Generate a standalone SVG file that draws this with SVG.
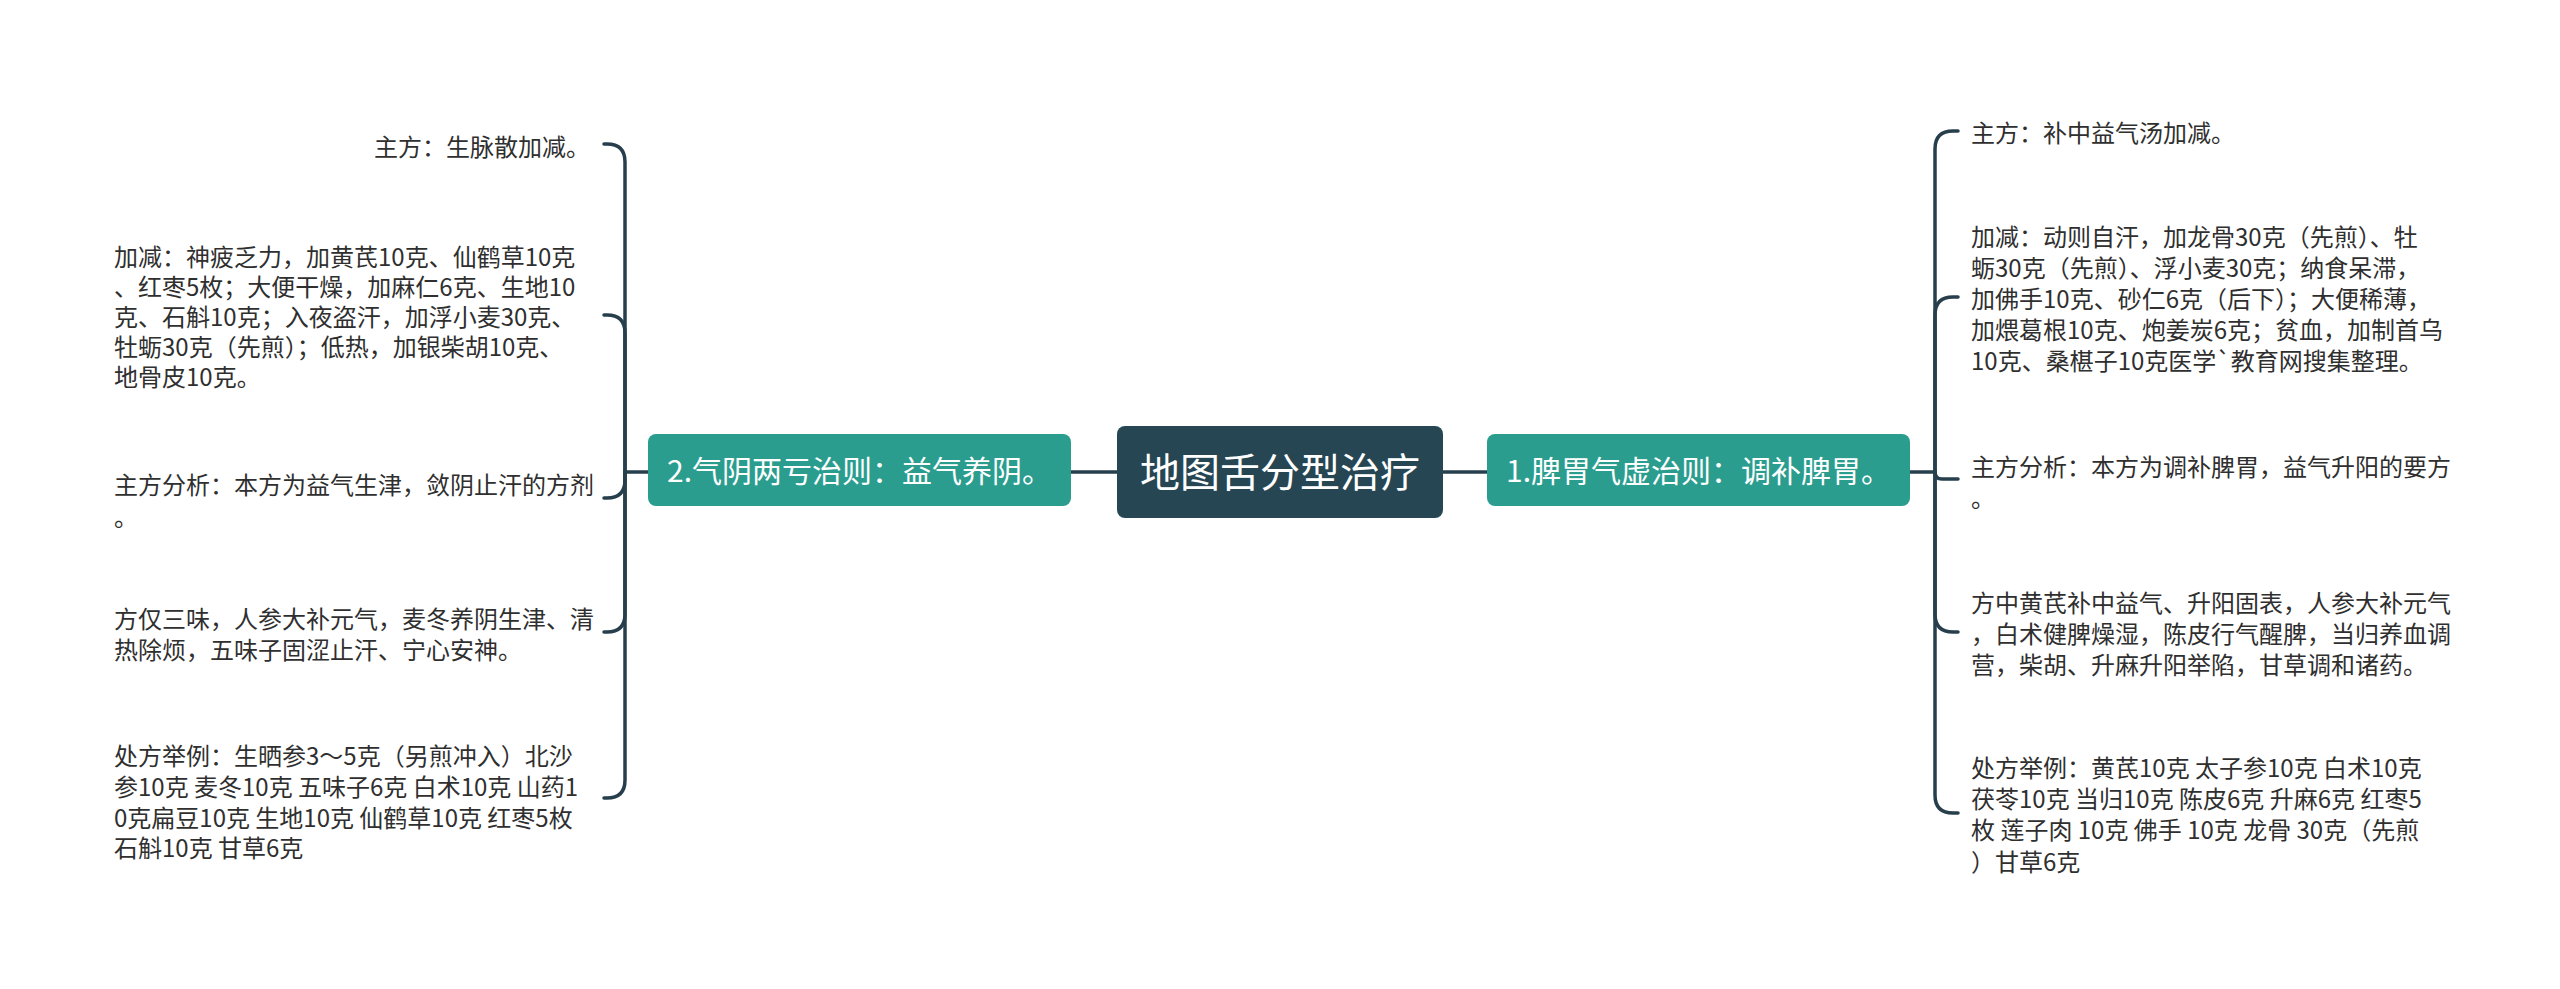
<svg xmlns="http://www.w3.org/2000/svg" width="2560" height="989" viewBox="0 0 2560 989">
<style>
.bg{fill:#ffffff}
.conn{fill:none;stroke:#273f4c;stroke-width:3.5;stroke-linecap:round;stroke-linejoin:round}
.root rect{fill:#264653}
.main rect{fill:#2a9d8f}
.root text{font-family:"Noto Sans CJK SC","Liberation Sans",sans-serif;font-size:40px;fill:#ffffff;dominant-baseline:central;text-anchor:middle}
.main text{font-family:"Noto Sans CJK SC","Liberation Sans",sans-serif;font-size:30px;fill:#ffffff;dominant-baseline:central;text-anchor:middle}
.leaf text{font-family:"Noto Sans CJK SC","Liberation Sans",sans-serif;font-size:24px;fill:#2f2f2f;dominant-baseline:central}
</style>
<rect class="bg" x="0" y="0" width="2560" height="989"/>
<g id="connectors">
<path class="conn" d="M1117,472 H1071"/>
<path class="conn" d="M1443,472 H1487"/>
<path class="conn" d="M648,472 H625"/>
<path class="conn" d="M625,472 V162 Q625,144 607,144 H604"/>
<path class="conn" d="M625,472 V333 Q625,315 607,315 H604"/>
<path class="conn" d="M625,472 V480 Q625,498 607,498 H604"/>
<path class="conn" d="M625,472 V614 Q625,632 607,632 H604"/>
<path class="conn" d="M625,472 V780 Q625,798 607,798 H604"/>
<path class="conn" d="M1910,472 H1935"/>
<path class="conn" d="M1935,472 V149 Q1935,131 1953,131 H1958"/>
<path class="conn" d="M1935,472 V315 Q1935,297 1953,297 H1958"/>
<path class="conn" d="M1935,472 Q1935,479 1942,479 H1958"/>
<path class="conn" d="M1935,472 V614 Q1935,632 1953,632 H1958"/>
<path class="conn" d="M1935,472 V795 Q1935,813 1953,813 H1958"/>
</g>
<g id="root" class="root">
<rect x="1117" y="426" width="326" height="92" rx="8"/>
<text x="1280" y="470">地图舌分型治疗</text>
</g>
<g id="branch-left" class="main">
<rect x="648" y="434" width="423" height="72" rx="8"/>
<text x="859.5" y="469">2.气阴两亏治则：益气养阴。</text>
</g>
<g id="branch-right" class="main">
<rect x="1487" y="434" width="423" height="72" rx="8"/>
<text x="1698.5" y="469">1.脾胃气虚治则：调补脾胃。</text>
</g>
<g id="left-1" class="leaf">
<text x="590" y="145" text-anchor="end">主方：生脉散加减。</text>
</g>
<g id="left-2" class="leaf">
<text x="114" y="255">加减：神疲乏力，加黄芪10克、仙鹤草10克</text>
<text x="114" y="285">、红枣5枚；大便干燥，加麻仁6克、生地10</text>
<text x="114" y="315">克、石斛10克；入夜盗汗，加浮小麦30克、</text>
<text x="114" y="345">牡蛎30克（先煎）；低热，加银柴胡10克、</text>
<text x="114" y="375">地骨皮10克。</text>
</g>
<g id="left-3" class="leaf">
<text x="114" y="483">主方分析：本方为益气生津，敛阴止汗的方剂</text>
<text x="114" y="515">。</text>
</g>
<g id="left-4" class="leaf">
<text x="114" y="617">方仅三味，人参大补元气，麦冬养阴生津、清</text>
<text x="114" y="648">热除烦，五味子固涩止汗、宁心安神。</text>
</g>
<g id="left-5" class="leaf">
<text x="114" y="754">处方举例：生晒参3～5克（另煎冲入）北沙</text>
<text x="114" y="785">参10克 麦冬10克 五味子6克 白术10克 山药1</text>
<text x="114" y="816">0克扁豆10克 生地10克 仙鹤草10克 红枣5枚</text>
<text x="114" y="846">石斛10克 甘草6克</text>
</g>
<g id="right-1" class="leaf">
<text x="1971" y="131">主方：补中益气汤加减。</text>
</g>
<g id="right-2" class="leaf">
<text x="1971" y="235">加减：动则自汗，加龙骨30克（先煎）、牡</text>
<text x="1971" y="266">蛎30克（先煎）、浮小麦30克；纳食呆滞，</text>
<text x="1971" y="297">加佛手10克、砂仁6克（后下）；大便稀薄，</text>
<text x="1971" y="328">加煨葛根10克、炮姜炭6克；贫血，加制首乌</text>
<text x="1971" y="359">10克、桑椹子10克医学`教育网搜集整理。</text>
</g>
<g id="right-3" class="leaf">
<text x="1971" y="465">主方分析：本方为调补脾胃，益气升阳的要方</text>
<text x="1971" y="496">。</text>
</g>
<g id="right-4" class="leaf">
<text x="1971" y="601">方中黄芪补中益气、升阳固表，人参大补元气</text>
<text x="1971" y="632">，白术健脾燥湿，陈皮行气醒脾，当归养血调</text>
<text x="1971" y="663">营，柴胡、升麻升阳举陷，甘草调和诸药。</text>
</g>
<g id="right-5" class="leaf">
<text x="1971" y="766">处方举例：黄芪10克 太子参10克 白术10克</text>
<text x="1971" y="797">茯苓10克 当归10克 陈皮6克 升麻6克 红枣5</text>
<text x="1971" y="828">枚 莲子肉 10克 佛手 10克 龙骨 30克（先煎</text>
<text x="1971" y="860">）甘草6克</text>
</g>
</svg>
